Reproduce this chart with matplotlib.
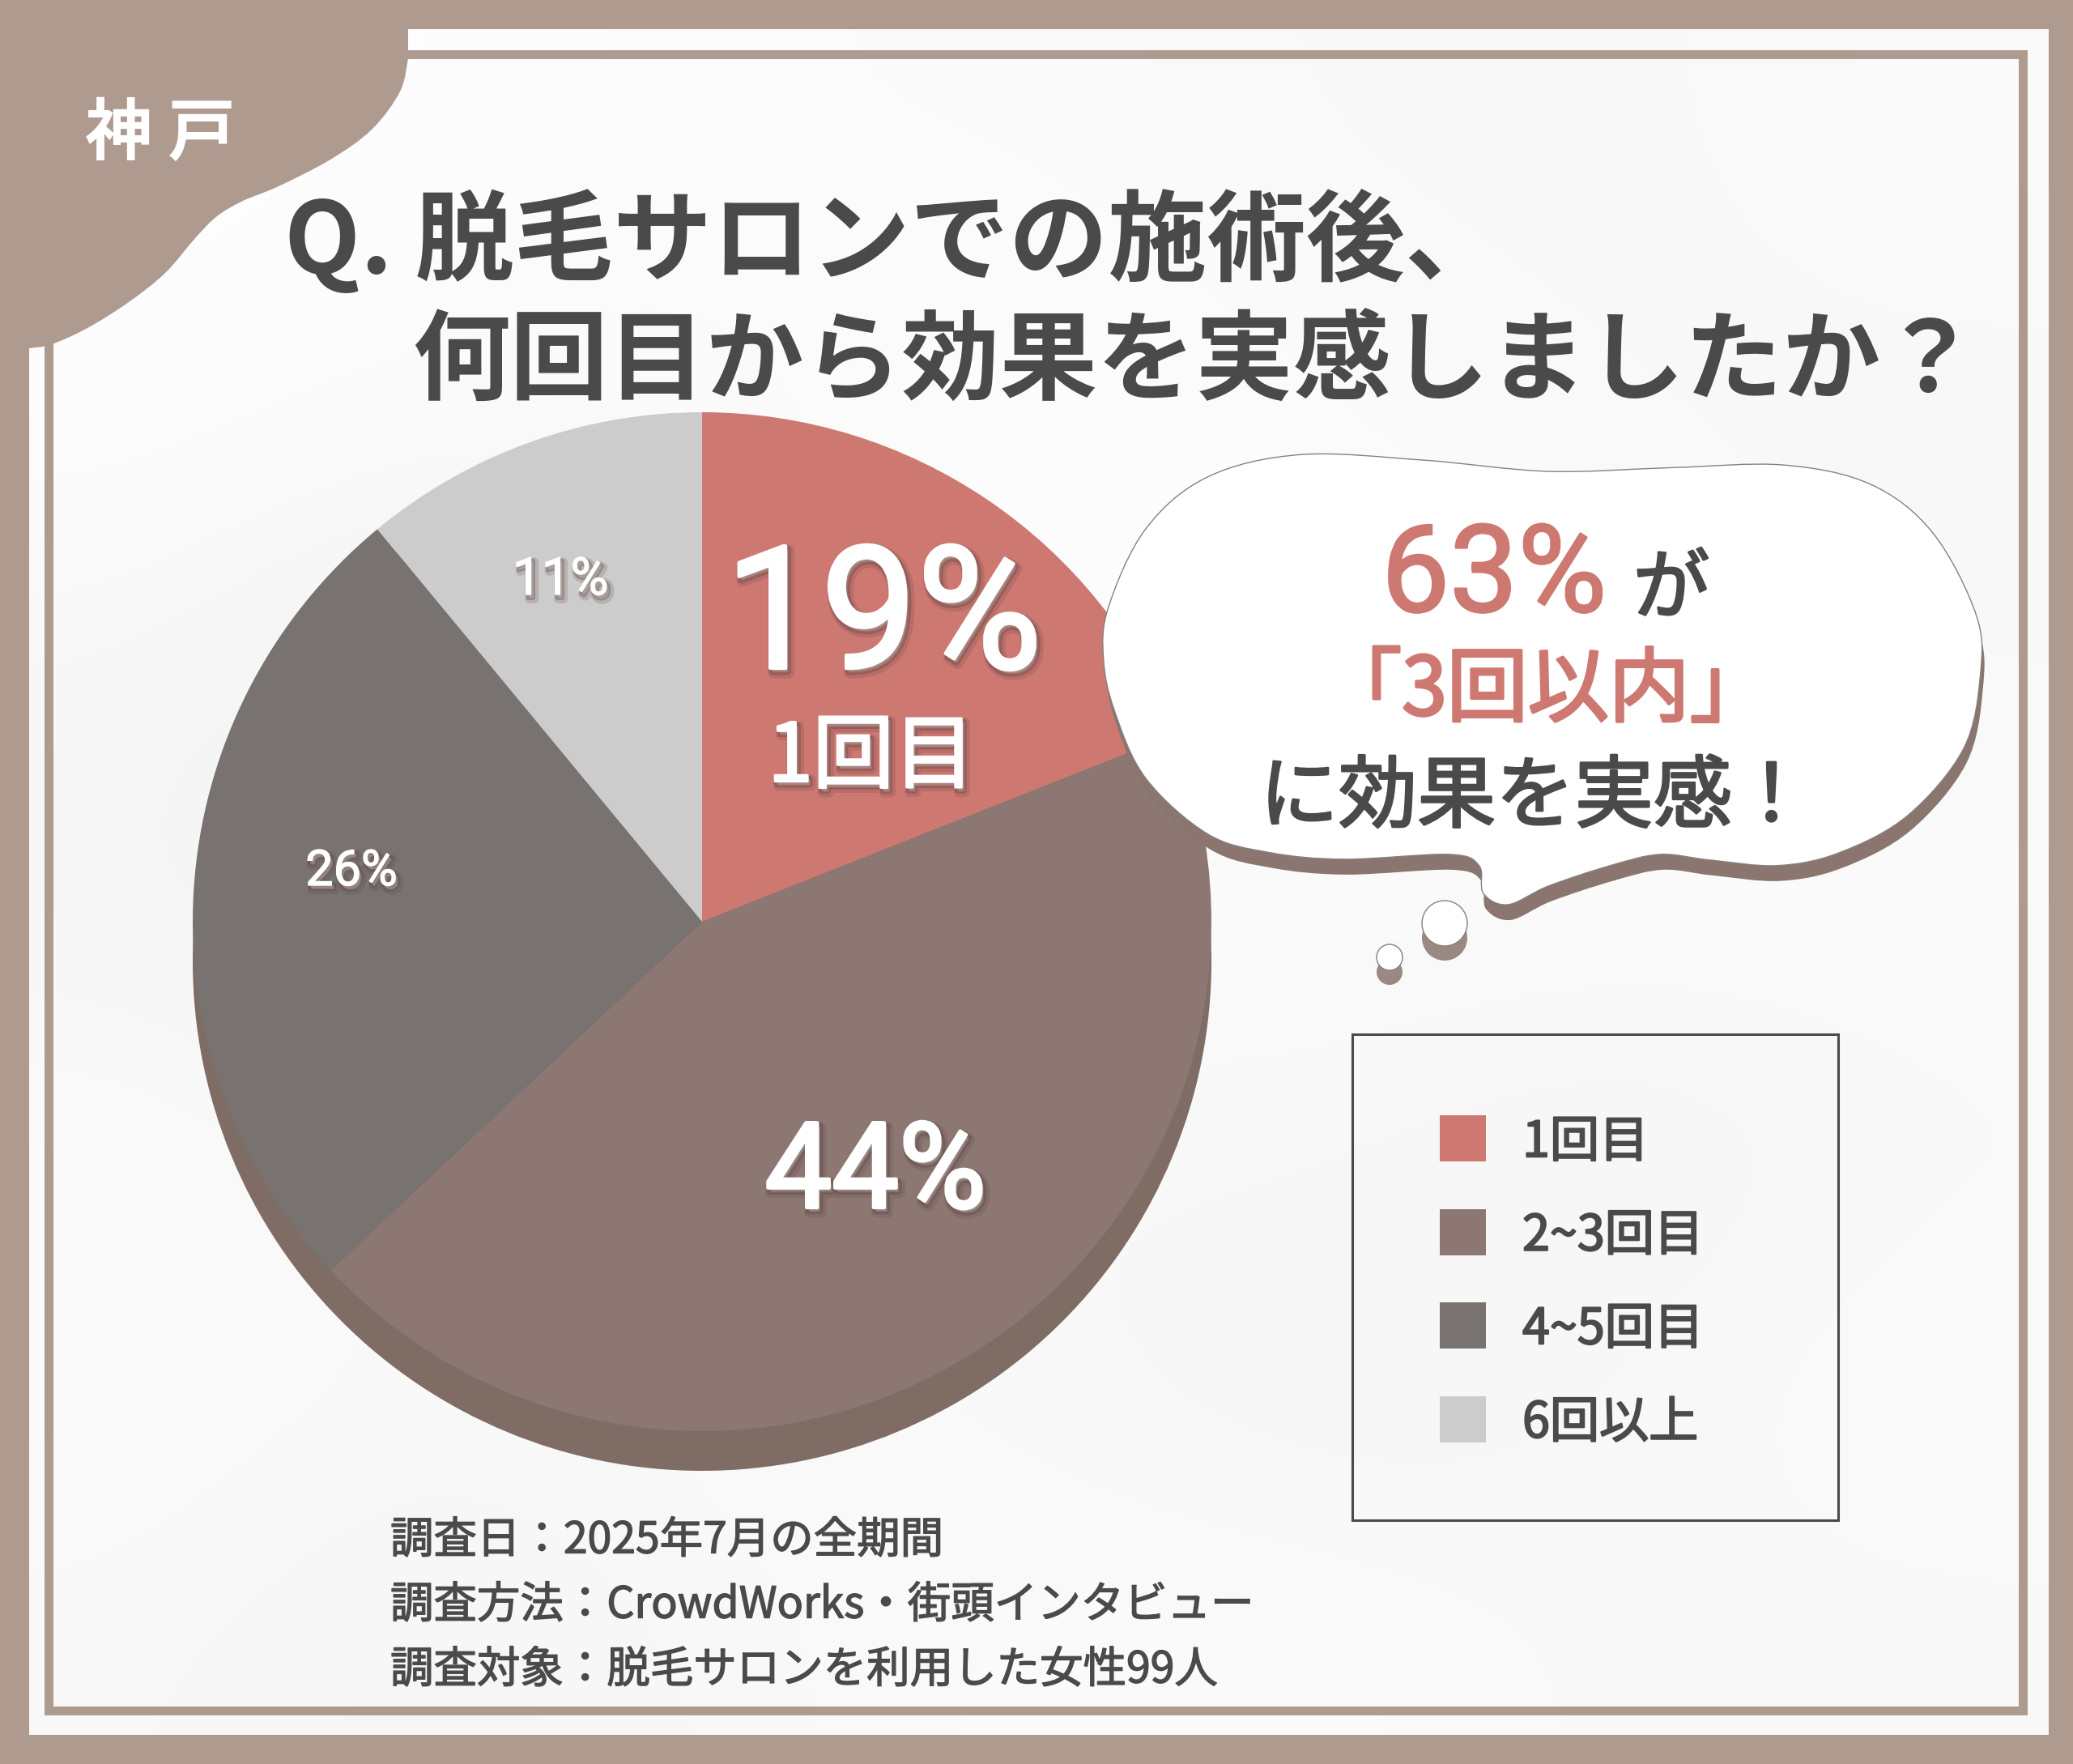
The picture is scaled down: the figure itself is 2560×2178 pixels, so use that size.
import numpy as np
import matplotlib
matplotlib.use('Agg')
import matplotlib.pyplot as plt
import matplotlib.patheffects as pe
from matplotlib.patches import Circle, PathPatch, Rectangle
from matplotlib.path import Path

plt.rcParams['font.family'] = ['Noto Sans CJK JP', 'DejaVu Sans']

W, H = 2560, 2178

# pie data
categories = ['1回目', '2~3回目', '4~5回目', '6回以上']
shares = [19, 44, 26, 11]
pie_labels = ['19%', '44%', '26%', '11%']
pie_colors = ['#CE7872', '#8C7773', '#787270', '#CCCCCC']

title_lines = ['Q. 脱毛サロンでの施術後、', '何回目から効果を実感しましたか？']
footer_lines = ['調査日：2025年7月の全期間',
                '調査方法：CrowdWorks・街頭インタビュー',
                '調査対象：脱毛サロンを利用した女性99人']

BAND = '#AF9A90'
INK = '#4A4A4A'
RED = '#CE7872'
DROP = '#8A766E'

# outline of the corner shape and the thought bubble, in pixels
corner_pts = [(504, 72), (494, 113), (459, 160), (408, 197), (344, 230), (300, 248), (268, 267),
              (242, 293), (204, 337), (159, 373), (108, 405), (64, 425), (36, 430)]
bubble_zoom = [(400, 90), (600, 105), (800, 135), (1000, 125), (1180, 118), (1320, 170),
               (1420, 300), (1490, 520), (1497, 680), (1470, 880), (1380, 1060), (1270, 1160),
               (1170, 1195), (1060, 1180), (980, 1165), (900, 1195), (800, 1250), (735, 1300),
               (695, 1270), (688, 1195), (640, 1165), (470, 1178), (350, 1160), (250, 1110),
               (150, 960), (100, 780), (82, 640), (90, 500), (150, 290), (250, 150)]
bubble_pts = [(1300 + x / 1.3067, 520 + y / 2.178) for x, y in bubble_zoom]

# faint grey wash of the paper
paper = [[.99, .99, .98, .98, .97, .97, .98],
         [.99, .98, .98, .99, .98, .97, .97],
         [.97, .95, .97, .99, .99, .98, .97],
         [.96, .94, .97, .98, .98, .98, .98],
         [.98, .97, .96, .97, .97, .96, .97],
         [.98, .97, .98, .97, .96, .97, .98],
         [.97, .96, .97, .98, .98, .97, .97]]


def smooth(pts, closed=True):
    # catmull-rom through the points, as bezier segments
    p = np.array(pts, dtype=float)
    n = len(p)
    verts = [p[0]]
    for i in range(n if closed else n - 1):
        if closed:
            p0, p1, p2, p3 = p[i - 1], p[i], p[(i + 1) % n], p[(i + 2) % n]
        else:
            p0, p1, p2, p3 = p[max(i - 1, 0)], p[i], p[i + 1], p[min(i + 2, n - 1)]
        verts += [p1 + (p2 - p0) / 6, p2 - (p3 - p1) / 6, p2]
    return np.array(verts)


def closed_path(verts):
    codes = [Path.MOVETO] + [Path.CURVE4] * (len(verts) - 1)
    return Path(verts, codes)


def rounded(lw, color):
    return [pe.Stroke(linewidth=lw, foreground=color, joinstyle='round', capstyle='round'), pe.Normal()]


def soft(lw, color, drop='#5A403C'):
    return [pe.Stroke(offset=(3, -4), linewidth=lw + 7, foreground=drop, alpha=0.18),
            pe.Stroke(offset=(2, -3), linewidth=lw + 3, foreground=drop, alpha=0.35),
            pe.Stroke(linewidth=lw, foreground=color, joinstyle='round', capstyle='round'),
            pe.Normal()]


fig = plt.figure(figsize=(W / 100, H / 100), dpi=100, facecolor='white')

# background layer
bg = fig.add_axes([0, 0, 1, 1], zorder=0)
bg.imshow(paper, cmap='gray', vmin=0, vmax=1, extent=(0, W, H, 0), interpolation='bicubic', aspect='auto')
bg.set_xlim(0, W)
bg.set_ylim(H, 0)
bg.axis('off')
bg.add_patch(Circle((867, 1187), 629, fc='#7F6D65', ec='none'))

# pie, limits of ax.pie are +-1.25 so the axes is sized from the radius
r = 629
cx, cy = 867, 1138
side = 2.5 * r
pie_ax = fig.add_axes([(cx - side / 2) / W, (H - cy - side / 2) / H, side / W, side / H], zorder=1)
pie_ax.patch.set_alpha(0)
pie_ax.pie(shares, colors=pie_colors, startangle=90, counterclock=False,
           wedgeprops={'linewidth': 0})

# everything on top, in pixel coordinates
ax = fig.add_axes([0, 0, 1, 1], zorder=2)
ax.set_xlim(0, W)
ax.set_ylim(H, 0)
ax.axis('off')
ax.patch.set_alpha(0)

# frame
for x, y, w, h in [(0, 0, W, 36), (0, 2142, W, 36), (0, 0, 36, H), (2530, 0, 30, H)]:
    ax.add_patch(Rectangle((x, y), w, h, fc=BAND, ec='none'))
ax.add_patch(Rectangle((59.5, 66.5), 2438.5, 2045, fc='none', ec=BAND, lw=7.9))

# corner shape
curve = smooth(corner_pts, closed=False)
verts = np.vstack([[(0, 0), (504, 0)], curve, [(0, 430), (0, 0)]])
codes = [Path.MOVETO, Path.LINETO, Path.LINETO] + [Path.CURVE4] * (len(curve) - 1) + [Path.LINETO, Path.CLOSEPOLY]
ax.add_patch(PathPatch(Path(verts, codes), fc=BAND, ec='none'))
ax.text(198, 166, '神 戸', color='white', fontsize=60, fontweight='bold', ha='center', va='center')

# title
ax.text(351, 298, title_lines[0], color=INK, fontsize=88, fontweight='bold', ha='left', va='center')
ax.text(509, 449, title_lines[1], color=INK, fontsize=87, fontweight='bold', ha='left', va='center')

# labels on the pie
ax.text(1091, 767, pie_labels[0], color='white', fontsize=152, family=['Roboto', 'DejaVu Sans'],
        ha='center', va='center', path_effects=soft(3, 'white'))
ax.text(1076, 936, categories[0], color='white', fontsize=72, ha='center', va='center',
        path_effects=soft(2, 'white'))
ax.text(1081, 1451, pie_labels[1], color='white', fontsize=106, family=['Roboto', 'DejaVu Sans'],
        ha='center', va='center', path_effects=soft(3, 'white'))
ax.text(434, 1076, pie_labels[2], color='white', fontsize=44, family=['Roboto', 'DejaVu Sans'],
        ha='center', va='center', path_effects=soft(1, 'white'))
ax.text(692, 716, pie_labels[3], color='white', fontsize=46, family=['Roboto', 'DejaVu Sans'],
        ha='center', va='center', path_effects=soft(1, 'white'))

# thought bubble
bub = closed_path(smooth(bubble_pts))
ax.add_patch(PathPatch(closed_path(smooth(bubble_pts) + np.array([3, 19])), fc=DROP, ec='none'))
ax.add_patch(PathPatch(bub, fc='white', ec='#888080', lw=1))
for x, y, rad in [(1784, 1140, 28), (1716, 1182, 16)]:
    ax.add_patch(Circle((x, y + 18), rad, fc=DROP, ec='none', alpha=0.85))
    ax.add_patch(Circle((x, y), rad, fc='white', ec='#888080', lw=1))
ax.text(1845, 714, '63%', color=RED, fontsize=108, family=['Roboto', 'DejaVu Sans'], ha='center', va='center',
        path_effects=rounded(2, RED))
ax.text(2064, 729, 'が', color=INK, fontsize=68, ha='center', va='center', path_effects=rounded(2, INK))
ax.text(1909, 854, '「3回以内」', color=RED, fontsize=72, ha='center', va='center', path_effects=rounded(2.5, RED))
ax.text(1896, 986, 'に効果を実感！', color=INK, fontsize=70, ha='center', va='center', path_effects=rounded(2, INK))

# legend box
ax.add_patch(Rectangle((1670, 1277), 600, 600, fc='none', ec=INK, lw=2.2))
for i, (lab, col) in enumerate(zip(categories, pie_colors)):
    y = 1377 + i * 115.5
    ax.add_patch(Rectangle((1778, y), 57, 57, fc=col, ec='none'))
    ax.text(1880, y + 34, lab, color=INK, fontsize=44, ha='left', va='center', path_effects=rounded(1.5, INK))

# footer
for line, y in zip(footer_lines, [1902, 1982, 2062]):
    ax.text(482, y, line, color=INK, fontsize=38.5, ha='left', va='center', path_effects=rounded(1, INK))

fig.savefig('out.png', dpi=100)
